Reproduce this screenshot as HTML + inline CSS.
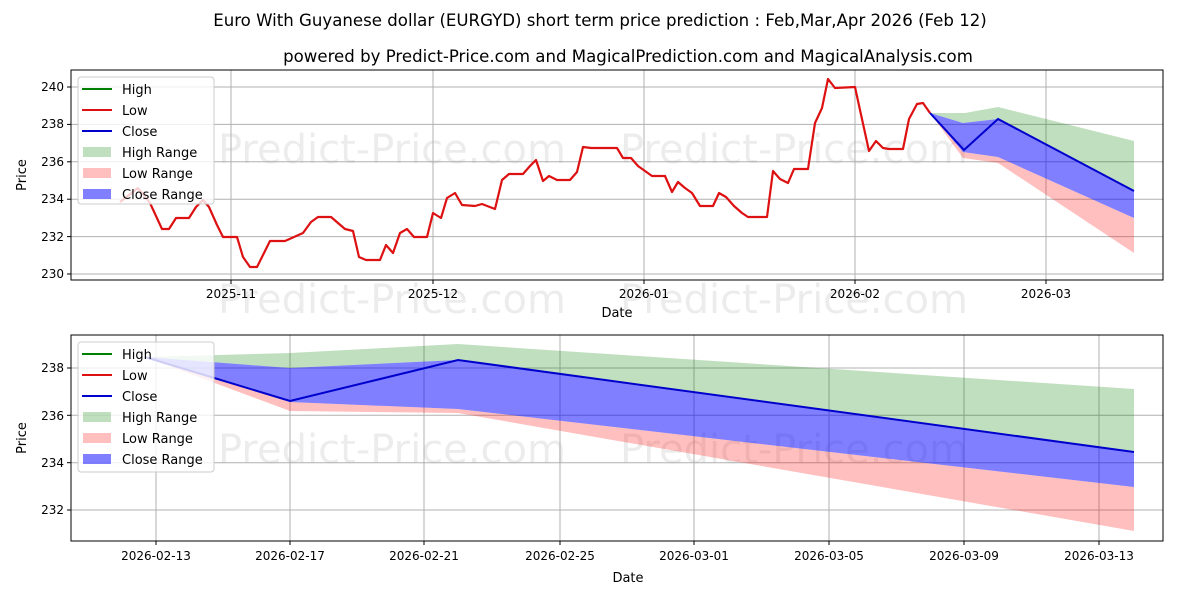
<!DOCTYPE html>
<html><head><meta charset="utf-8"><style>
body{margin:0;background:#fff}
svg{display:block;font-family:"DejaVu Sans","Liberation Sans",sans-serif}
</style></head><body>
<svg width="1200" height="600" viewBox="0 0 1200 600" xmlns="http://www.w3.org/2000/svg">
<rect width="1200" height="600" fill="#fff"/>
<text x="600" y="26" font-size="16.6" text-anchor="middle">Euro With Guyanese dollar (EURGYD) short term price prediction : Feb,Mar,Apr 2026 (Feb 12)</text>
<text x="628" y="62" font-size="16.6" text-anchor="middle">powered by Predict-Price.com and MagicalPrediction.com and MagicalAnalysis.com</text>

<g font-size="40" fill="#000" opacity="0.07">
<text x="218" y="163">Predict-Price.com</text>
<text x="620" y="163">Predict-Price.com</text>
<text x="218" y="313">Predict-Price.com</text>
<text x="620" y="313">Predict-Price.com</text>
<text x="218" y="463">Predict-Price.com</text>
<text x="620" y="463">Predict-Price.com</text>
</g>

<g stroke="#b0b0b0" stroke-width="1">
<line x1="231" y1="70" x2="231" y2="280"/><line x1="433" y1="70" x2="433" y2="280"/>
<line x1="644" y1="70" x2="644" y2="280"/><line x1="855" y1="70" x2="855" y2="280"/>
<line x1="1046" y1="70" x2="1046" y2="280"/>
<line x1="71" y1="87" x2="1163" y2="87"/><line x1="71" y1="124.4" x2="1163" y2="124.4"/>
<line x1="71" y1="161.8" x2="1163" y2="161.8"/><line x1="71" y1="199.2" x2="1163" y2="199.2"/>
<line x1="71" y1="236.6" x2="1163" y2="236.6"/><line x1="71" y1="274" x2="1163" y2="274"/>
</g>
<polygon fill="#008000" fill-opacity="0.25" points="930,113 965,113 998,107 1134,141 1134,191 998,119 963,123"/>
<polygon fill="#ff0000" fill-opacity="0.25" points="930,113 963,152 998,157 1134,218 1134,253 998,163 963,158"/>
<polygon fill="#0000ff" fill-opacity="0.5" points="930,113 963,123 998,119 1134,191 1134,218 998,157 963,152"/>
<polyline fill="none" stroke="#0000cc" stroke-width="2" points="930,113 964,150 998,119 1134,191"/>
<polyline fill="none" stroke="#dd1111" stroke-width="2.2" stroke-linejoin="round" points="120,202 138,188 150,203 162,229 169,229 176,218 189,218 196,207 203,200 209,207 217,225 223,237 237,237 243,257 250,267 257,267 270,241 285,241 303,233 311,222 318,217 331,217 345,229 353,231 359,257 366,260 380,260 386,245 393,253 400,233 407,229 414,237 427,237 433,213 441,218 447,198 455,193 462,205 475,206 482,204 495,209 502,180 509,174 523,174 530,166 536,160 543,181 549,176 557,180 570,180 577,172 583,147 591,148 617,148 623,158 631,158 638,166 652,176 665,176 672,192 678,182 685,188 692,193 700,206 713,206 719,193 726,197 734,206 742,213 748,217 767,217 773,171 780,179 788,183 794,169 808,169 815,123 822,108 828,79 835,88 855,87 860,110 869,151 876,141 883,148 889,149 903,149 909,119 917,104 923,103 930,113"/>
<rect x="71" y="70" width="1092" height="210" fill="none" stroke="#000" stroke-width="1"/>
<g stroke="#000"><line x1="231" y1="280" x2="231" y2="284"/><line x1="433" y1="280" x2="433" y2="284"/><line x1="644" y1="280" x2="644" y2="284"/><line x1="855" y1="280" x2="855" y2="284"/><line x1="1046" y1="280" x2="1046" y2="284"/>
<line x1="67" y1="87" x2="71" y2="87"/><line x1="67" y1="124.4" x2="71" y2="124.4"/><line x1="67" y1="161.8" x2="71" y2="161.8"/><line x1="67" y1="199.2" x2="71" y2="199.2"/><line x1="67" y1="236.6" x2="71" y2="236.6"/><line x1="67" y1="274" x2="71" y2="274"/></g>
<g font-size="12" text-anchor="middle">
<text x="231" y="298">2025-11</text><text x="433" y="298">2025-12</text><text x="644" y="298">2026-01</text><text x="855" y="298">2026-02</text><text x="1046" y="298">2026-03</text>
<text x="617" y="317" font-size="13">Date</text>
</g>
<g font-size="12" text-anchor="end">
<text x="64" y="91">240</text><text x="64" y="128">238</text><text x="64" y="166">236</text><text x="64" y="203">234</text><text x="64" y="241">232</text><text x="64" y="278">230</text>
</g>
<text x="26" y="175" font-size="13" text-anchor="middle" transform="rotate(-90 26 175)">Price</text>
<g>
<rect x="78" y="77" width="136" height="127" rx="3" fill="#fff" fill-opacity="0.8" stroke="#ccc"/>
<line x1="82" y1="89" x2="112" y2="89" stroke="#008000" stroke-width="2"/>
<line x1="82" y1="110" x2="112" y2="110" stroke="#dd1111" stroke-width="2"/>
<line x1="82" y1="131" x2="112" y2="131" stroke="#0000cc" stroke-width="2"/>
<rect x="83" y="147" width="28" height="10" fill="#008000" fill-opacity="0.25"/>
<rect x="83" y="168" width="28" height="10" fill="#ff0000" fill-opacity="0.25"/>
<rect x="83" y="189" width="28" height="10" fill="#0000ff" fill-opacity="0.5"/>
<g font-size="13"><text x="122" y="94">High</text><text x="122" y="115">Low</text><text x="122" y="136">Close</text><text x="122" y="157">High Range</text><text x="122" y="178">Low Range</text><text x="122" y="199">Close Range</text></g>
</g>

<g stroke="#b0b0b0" stroke-width="1">
<line x1="156" y1="335" x2="156" y2="541"/><line x1="290" y1="335" x2="290" y2="541"/>
<line x1="424" y1="335" x2="424" y2="541"/><line x1="560" y1="335" x2="560" y2="541"/>
<line x1="694" y1="335" x2="694" y2="541"/><line x1="829" y1="335" x2="829" y2="541"/>
<line x1="964" y1="335" x2="964" y2="541"/><line x1="1099" y1="335" x2="1099" y2="541"/>
<line x1="71" y1="368" x2="1163" y2="368"/><line x1="71" y1="415.3" x2="1163" y2="415.3"/>
<line x1="71" y1="462.7" x2="1163" y2="462.7"/><line x1="71" y1="510" x2="1163" y2="510"/>
</g>
<polygon fill="#008000" fill-opacity="0.25" points="145,357 290,353 458,344 1134,389 1134,452 458,360 290,368"/>
<polygon fill="#ff0000" fill-opacity="0.25" points="145,357 290,411 458,413 1134,531 1134,487 458,409 290,402"/>
<polygon fill="#0000ff" fill-opacity="0.5" points="145,357 290,368 458,360 1134,452 1134,487 458,409 290,402"/>
<polyline fill="none" stroke="#0000cc" stroke-width="2" points="145,357 290,401 458,360 1134,452"/>
<rect x="71" y="335" width="1092" height="206" fill="none" stroke="#000" stroke-width="1"/>
<g stroke="#000"><line x1="156" y1="541" x2="156" y2="545"/><line x1="290" y1="541" x2="290" y2="545"/><line x1="424" y1="541" x2="424" y2="545"/><line x1="560" y1="541" x2="560" y2="545"/><line x1="694" y1="541" x2="694" y2="545"/><line x1="829" y1="541" x2="829" y2="545"/><line x1="964" y1="541" x2="964" y2="545"/><line x1="1099" y1="541" x2="1099" y2="545"/>
<line x1="67" y1="368" x2="71" y2="368"/><line x1="67" y1="415.3" x2="71" y2="415.3"/><line x1="67" y1="462.7" x2="71" y2="462.7"/><line x1="67" y1="510" x2="71" y2="510"/></g>
<g font-size="12" text-anchor="middle">
<text x="156" y="560">2026-02-13</text><text x="290" y="560">2026-02-17</text><text x="424" y="560">2026-02-21</text><text x="560" y="560">2026-02-25</text><text x="694" y="560">2026-03-01</text><text x="829" y="560">2026-03-05</text><text x="964" y="560">2026-03-09</text><text x="1099" y="560">2026-03-13</text>
<text x="628" y="582" font-size="13">Date</text>
</g>
<g font-size="12" text-anchor="end">
<text x="64" y="372">238</text><text x="64" y="420">236</text><text x="64" y="467">234</text><text x="64" y="514">232</text>
</g>
<text x="26" y="438" font-size="13" text-anchor="middle" transform="rotate(-90 26 438)">Price</text>
<g>
<rect x="78" y="342" width="136" height="130" rx="3" fill="#fff" fill-opacity="0.8" stroke="#ccc"/>
<line x1="82" y1="354" x2="112" y2="354" stroke="#008000" stroke-width="2"/>
<line x1="82" y1="375" x2="112" y2="375" stroke="#dd1111" stroke-width="2"/>
<line x1="82" y1="396" x2="112" y2="396" stroke="#0000cc" stroke-width="2"/>
<rect x="83" y="412" width="28" height="10" fill="#008000" fill-opacity="0.25"/>
<rect x="83" y="433" width="28" height="10" fill="#ff0000" fill-opacity="0.25"/>
<rect x="83" y="454" width="28" height="10" fill="#0000ff" fill-opacity="0.5"/>
<g font-size="13"><text x="122" y="359">High</text><text x="122" y="380">Low</text><text x="122" y="401">Close</text><text x="122" y="422">High Range</text><text x="122" y="443">Low Range</text><text x="122" y="464">Close Range</text></g>
</g>
</svg>
</body></html>
